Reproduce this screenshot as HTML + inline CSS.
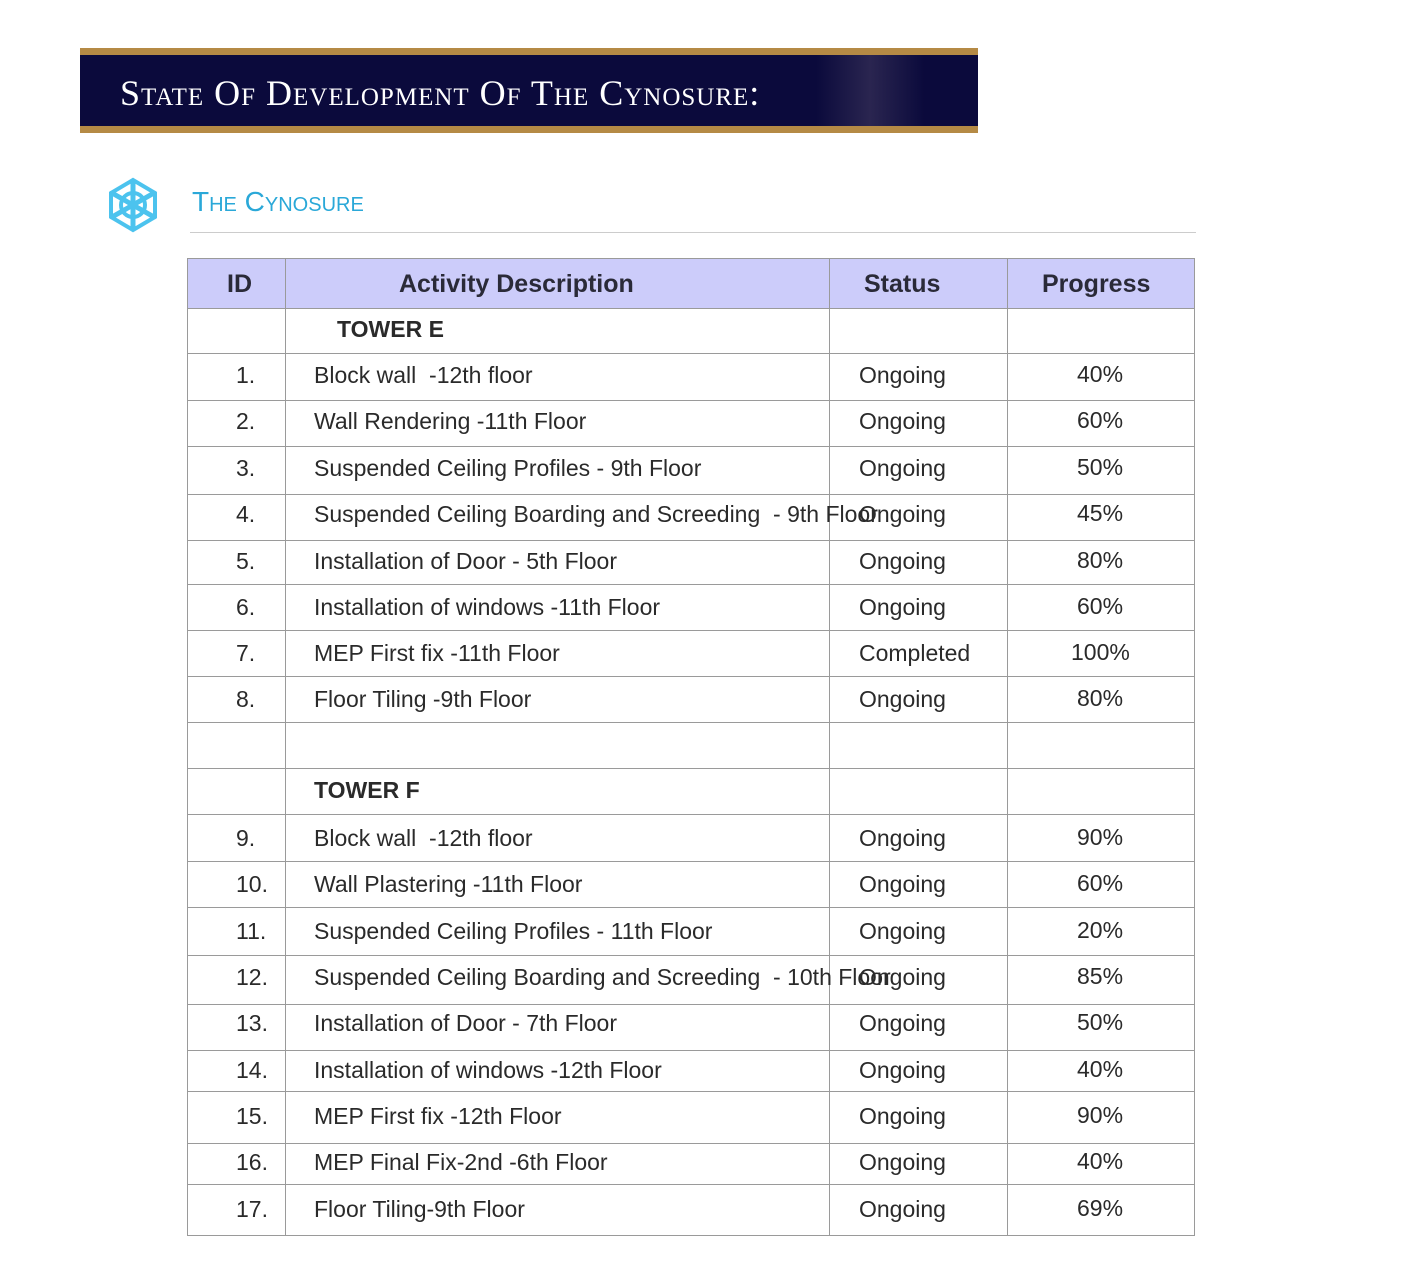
<!DOCTYPE html>
<html><head><meta charset="utf-8"><style>
body{margin:0;width:1412px;height:1283px;background:#fff;position:relative;overflow:hidden;font-family:"Liberation Sans",sans-serif;color:#2a2a2a}
.a{position:absolute}
.h{position:absolute;left:187px;width:1008px;height:1px;background:#9a9a9a}
.v{position:absolute;top:258px;height:978px;width:1px;background:#9a9a9a}
.t{position:absolute;height:30px;line-height:30px;font-size:23px;white-space:nowrap}
.th{position:absolute;top:268px;height:32px;line-height:32px;font-size:25px;font-weight:bold;color:#2a2a38}
</style></head><body>
<div class="a" style="left:80px;top:48px;width:898px;height:85px;background:#b58a45"></div>
<div class="a" style="left:80px;top:55px;width:898px;height:71px;background:linear-gradient(90deg,#0b0a3c 0%,#0b0a3c 82%,#2a2550 88%,#0b0a3c 94%,#0b0a3c 100%)"></div>
<div class="a" style="left:120px;top:72px;font-family:'Liberation Serif',serif;font-size:36px;color:#fff;font-variant:small-caps;letter-spacing:1px;white-space:nowrap">State Of Development Of The Cynosure:</div>
<svg class="a" style="left:104px;top:176px" width="58" height="58" viewBox="-29 -29 58 58">
<g stroke="#4cc3ee" stroke-width="5" fill="none" stroke-linecap="round">
<line x1="0" y1="-24" x2="0" y2="24"/><line x1="-21" y1="-12" x2="21" y2="12"/><line x1="-21" y1="12" x2="21" y2="-12"/>
<circle r="12" stroke-width="4"/>
<polygon points="0,-25 22,-12 22,12 0,25 -22,12 -22,-12" stroke-width="4"/>
</g></svg>
<div class="a" style="left:192px;top:186px;font-size:28px;color:#2aa8d8;font-variant:small-caps;white-space:nowrap">The Cynosure</div>
<div class="a" style="left:190px;top:232px;width:1006px;height:1px;background:#ccc"></div>
<div class="a" style="left:187px;top:258px;width:1008px;height:50px;background:#ccccfa"></div>
<div class="h" style="top:258px"></div><div class="h" style="top:308px"></div><div class="h" style="top:353px"></div><div class="h" style="top:400px"></div><div class="h" style="top:446px"></div><div class="h" style="top:494px"></div><div class="h" style="top:540px"></div><div class="h" style="top:584px"></div><div class="h" style="top:630px"></div><div class="h" style="top:676px"></div><div class="h" style="top:722px"></div><div class="h" style="top:768px"></div><div class="h" style="top:814px"></div><div class="h" style="top:861px"></div><div class="h" style="top:907px"></div><div class="h" style="top:955px"></div><div class="h" style="top:1004px"></div><div class="h" style="top:1050px"></div><div class="h" style="top:1091px"></div><div class="h" style="top:1143px"></div><div class="h" style="top:1184px"></div><div class="h" style="top:1235px"></div>
<div class="v" style="left:187px"></div><div class="v" style="left:285px"></div><div class="v" style="left:829px"></div><div class="v" style="left:1007px"></div><div class="v" style="left:1194px"></div>
<div class="th" style="left:227px">ID</div>
<div class="th" style="left:399px">Activity Description</div>
<div class="th" style="left:864px">Status</div>
<div class="th" style="left:1042px">Progress</div>
<div class="t" style="left:337px;top:314px;font-weight:bold">TOWER E</div>
<div class="t" style="left:314px;top:775px;font-weight:bold">TOWER F</div>

<div class="t" style="left:236px;top:360px">1.</div><div class="t" style="left:314px;top:360px">Block wall &nbsp;-12th floor</div><div class="t" style="left:859px;top:360px">Ongoing</div><div class="t" style="left:1077px;top:359px">40%</div>
<div class="t" style="left:236px;top:406px">2.</div><div class="t" style="left:314px;top:406px">Wall Rendering -11th Floor</div><div class="t" style="left:859px;top:406px">Ongoing</div><div class="t" style="left:1077px;top:405px">60%</div>
<div class="t" style="left:236px;top:453px">3.</div><div class="t" style="left:314px;top:453px">Suspended Ceiling Profiles - 9th Floor</div><div class="t" style="left:859px;top:453px">Ongoing</div><div class="t" style="left:1077px;top:452px">50%</div>
<div class="t" style="left:236px;top:499px">4.</div><div class="t" style="left:314px;top:499px">Suspended Ceiling Boarding and Screeding &nbsp;- 9th Floor</div><div class="t" style="left:859px;top:499px">Ongoing</div><div class="t" style="left:1077px;top:498px">45%</div>
<div class="t" style="left:236px;top:546px">5.</div><div class="t" style="left:314px;top:546px">Installation of Door - 5th Floor</div><div class="t" style="left:859px;top:546px">Ongoing</div><div class="t" style="left:1077px;top:545px">80%</div>
<div class="t" style="left:236px;top:592px">6.</div><div class="t" style="left:314px;top:592px">Installation of windows -11th Floor</div><div class="t" style="left:859px;top:592px">Ongoing</div><div class="t" style="left:1077px;top:591px">60%</div>
<div class="t" style="left:236px;top:638px">7.</div><div class="t" style="left:314px;top:638px">MEP First fix -11th Floor</div><div class="t" style="left:859px;top:638px">Completed</div><div class="t" style="left:1071px;top:637px">100%</div>
<div class="t" style="left:236px;top:684px">8.</div><div class="t" style="left:314px;top:684px">Floor Tiling -9th Floor</div><div class="t" style="left:859px;top:684px">Ongoing</div><div class="t" style="left:1077px;top:683px">80%</div>

<div class="t" style="left:236px;top:823px">9.</div><div class="t" style="left:314px;top:823px">Block wall &nbsp;-12th floor</div><div class="t" style="left:859px;top:823px">Ongoing</div><div class="t" style="left:1077px;top:822px">90%</div>
<div class="t" style="left:236px;top:869px">10.</div><div class="t" style="left:314px;top:869px">Wall Plastering -11th Floor</div><div class="t" style="left:859px;top:869px">Ongoing</div><div class="t" style="left:1077px;top:868px">60%</div>
<div class="t" style="left:236px;top:916px">11.</div><div class="t" style="left:314px;top:916px">Suspended Ceiling Profiles - 11th Floor</div><div class="t" style="left:859px;top:916px">Ongoing</div><div class="t" style="left:1077px;top:915px">20%</div>
<div class="t" style="left:236px;top:962px">12.</div><div class="t" style="left:314px;top:962px">Suspended Ceiling Boarding and Screeding &nbsp;- 10th Floor</div><div class="t" style="left:859px;top:962px">Ongoing</div><div class="t" style="left:1077px;top:961px">85%</div>
<div class="t" style="left:236px;top:1008px">13.</div><div class="t" style="left:314px;top:1008px">Installation of Door - 7th Floor</div><div class="t" style="left:859px;top:1008px">Ongoing</div><div class="t" style="left:1077px;top:1007px">50%</div>
<div class="t" style="left:236px;top:1055px">14.</div><div class="t" style="left:314px;top:1055px">Installation of windows -12th Floor</div><div class="t" style="left:859px;top:1055px">Ongoing</div><div class="t" style="left:1077px;top:1054px">40%</div>
<div class="t" style="left:236px;top:1101px">15.</div><div class="t" style="left:314px;top:1101px">MEP First fix -12th Floor</div><div class="t" style="left:859px;top:1101px">Ongoing</div><div class="t" style="left:1077px;top:1100px">90%</div>
<div class="t" style="left:236px;top:1147px">16.</div><div class="t" style="left:314px;top:1147px">MEP Final Fix-2nd -6th Floor</div><div class="t" style="left:859px;top:1147px">Ongoing</div><div class="t" style="left:1077px;top:1146px">40%</div>
<div class="t" style="left:236px;top:1194px">17.</div><div class="t" style="left:314px;top:1194px">Floor Tiling-9th Floor</div><div class="t" style="left:859px;top:1194px">Ongoing</div><div class="t" style="left:1077px;top:1193px">69%</div>
</body></html>
